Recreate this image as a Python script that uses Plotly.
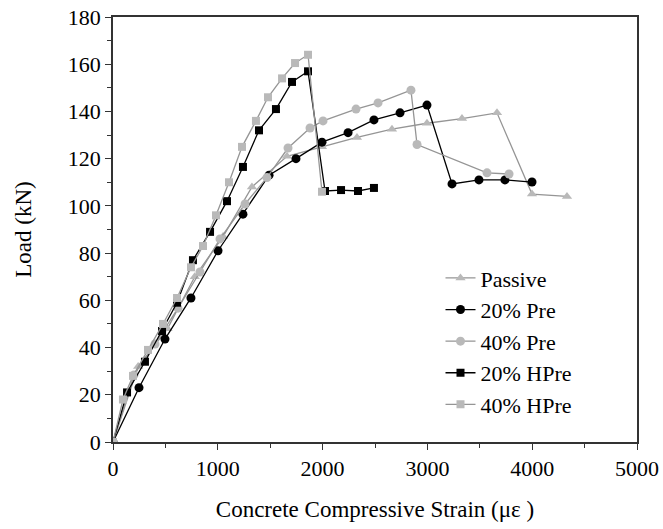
import plotly.graph_objects as go

passive_x = [0, 240, 520, 780, 1050, 1326, 1660, 1994, 2328, 2662, 2996, 3330, 3664, 3998, 4332]
passive_y = [0, 32, 48, 70, 87, 108, 121, 125, 129, 132.5, 135, 137, 139.4, 105, 104]

pre20_x = [0, 248, 496, 744, 1002, 1240, 1489, 1746, 1994, 2243, 2490, 2739, 2996, 3235, 3492, 3740, 3998]
pre20_y = [0, 23, 43.6, 61, 81, 96.5, 113, 120, 127, 131, 136.4, 139.4, 142.7, 109.3, 111, 111, 110.1]

pre40_x = [0, 200, 401, 620, 830, 1021, 1260, 1469, 1670, 1880, 2004, 2319, 2529, 2843, 2901, 3569, 3779]
pre40_y = [0, 28.4, 41.5, 56.7, 72, 86, 100.8, 112, 124.5, 133, 136, 141, 143.6, 149, 126, 114, 113.5]

hpre20_x = [0, 134, 305, 468, 611, 763, 926, 1088, 1240, 1393, 1555, 1708, 1861, 2023, 2176, 2338, 2490]
hpre20_y = [0, 21, 34, 47, 59, 77, 89, 102, 116.5, 132, 141, 152.5, 157, 106.3, 106.7, 106.3, 107.6]

hpre40_x = [0, 95, 191, 334, 477, 611, 744, 859, 983, 1107, 1231, 1364, 1479, 1613, 1737, 1861, 1994]
hpre40_y = [0, 18, 28, 39, 50, 61, 74, 83, 96, 110, 125, 136, 146, 154, 160.5, 164, 106]

x_ticks = [0, 1000, 2000, 3000, 4000, 5000]
y_ticks = [0, 20, 40, 60, 80, 100, 120, 140, 160, 180]

GRAY_M = "#b9b9b9"
GRAY_L = "#959595"
FONT = "Liberation Serif, Times New Roman, serif"

fig = go.Figure()
series = [
    ("Passive", passive_x, passive_y, "triangle-up", GRAY_M, GRAY_L, 9),
    ("20% Pre", pre20_x, pre20_y, "circle", "black", "black", 9),
    ("40% Pre", pre40_x, pre40_y, "circle", GRAY_M, GRAY_L, 9),
    ("20% HPre", hpre20_x, hpre20_y, "square", "black", "black", 8),
    ("40% HPre", hpre40_x, hpre40_y, "square", GRAY_M, GRAY_L, 8),
]
for name, xs, ys, sym, mc, lc, ms in series:
    fig.add_trace(go.Scatter(
        x=xs, y=ys, name=name, mode="lines+markers",
        line=dict(color=lc, width=1.3),
        marker=dict(symbol=sym, color=mc, size=ms, line=dict(width=0)),
    ))

axis_common = dict(
    showline=True, linecolor="#333", linewidth=1.5, mirror=True,
    ticks="outside", ticklen=6, tickwidth=1.3, tickcolor="#333",
    showgrid=False, zeroline=False, automargin=False,
    tickfont=dict(family=FONT, size=22, color="black"),
)

fig.update_layout(
    width=663, height=529,
    margin=dict(l=113, r=26, t=17, b=87),
    paper_bgcolor="white", plot_bgcolor="white",
    font=dict(family=FONT, size=22, color="black"),
    xaxis=dict(range=[0, 5000], tickvals=x_ticks,
               minor=dict(ticks="outside", dtick=500, ticklen=4, tickcolor="#333", tickwidth=1.2),
               title=dict(text="Concrete Compressive Strain (με )", font=dict(family=FONT, size=23), standoff=21),
               **axis_common),
    yaxis=dict(range=[0, 180], tickvals=y_ticks,
               minor=dict(ticks="outside", dtick=10, ticklen=4, tickcolor="#333", tickwidth=1.2),
               title=dict(text="Load (kN)", font=dict(family=FONT, size=23), standoff=30),
               **axis_common),
    legend=dict(x=0.625, y=0.435, xanchor="left", yanchor="top",
                bgcolor="rgba(0,0,0,0)", font=dict(family=FONT, size=22),
                tracegroupgap=0),
    showlegend=True,
)

fig.write_html("out.html", config={"displayModeBar": False},
               post_script="document.body.style.margin='0';")
